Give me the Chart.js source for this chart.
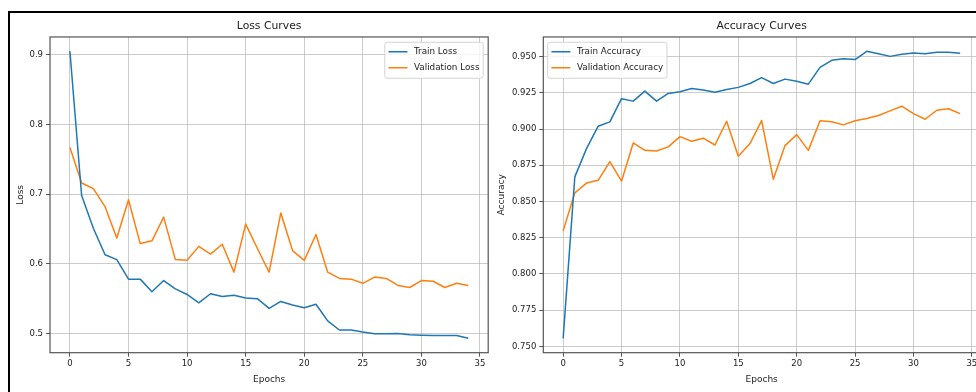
<!DOCTYPE html>
<html>
<head>
<meta charset="utf-8">
<title>Training curves</title>
<script src="https://cdn.jsdelivr.net/npm/chart.js@4.4.1/dist/chart.umd.min.js"></script>
<style>
  html, body { margin: 0; padding: 0; background: #fff; width: 976px; height: 392px; overflow: hidden; }
  .page-frame { position: absolute; left: 8px; top: 11px; width: 1400px; height: 1400px;
                border-top: 2px solid #000; border-left: 2px solid #000; }
  canvas { position: absolute; top: 0; }
  #lossChart { left: 0; }
  #accChart { left: 490px; }
</style>
</head>
<body>
<div class="page-frame"></div>
<canvas id="lossChart" width="490" height="392" style="width:490px;height:392px"></canvas>
<canvas id="accChart" width="520" height="392" style="width:520px;height:392px"></canvas>
<script>
// Epoch index for every recorded value
const epochs = [0, 1, 2, 3, 4, 5, 6, 7, 8, 9, 10, 11, 12, 13, 14, 15, 16, 17,
                18, 19, 20, 21, 22, 23, 24, 25, 26, 27, 28, 29, 30, 31, 32, 33, 34];

const trainLoss = [0.905, 0.698, 0.651, 0.613, 0.606, 0.578, 0.578, 0.560, 0.576, 0.564,
                   0.556, 0.544, 0.557, 0.553, 0.555, 0.551, 0.550, 0.536, 0.546, 0.541,
                   0.537, 0.542, 0.518, 0.505, 0.505, 0.502, 0.4995, 0.4995, 0.500, 0.498,
                   0.4975, 0.497, 0.497, 0.497, 0.493];

const valLoss = [0.767, 0.716, 0.708, 0.682, 0.637, 0.692, 0.629, 0.633, 0.667, 0.606,
                 0.605, 0.625, 0.614, 0.628, 0.588, 0.657, 0.622, 0.588, 0.673, 0.619,
                 0.605, 0.642, 0.588, 0.579, 0.578, 0.572, 0.581, 0.579, 0.569, 0.566,
                 0.576, 0.575, 0.566, 0.572, 0.569];

const trainAcc = [0.7555, 0.867, 0.8865, 0.902, 0.905, 0.921, 0.9193, 0.9262, 0.9193, 0.9246,
                  0.9258, 0.928, 0.927, 0.9255, 0.9274, 0.9288, 0.9315, 0.9355, 0.9315, 0.9345,
                  0.933, 0.931, 0.9426, 0.9475, 0.9486, 0.948, 0.9537, 0.952, 0.9502, 0.9516,
                  0.9525, 0.952, 0.953, 0.953, 0.9523];

const valAcc = [0.8297, 0.856, 0.8627, 0.8646, 0.8775, 0.864, 0.8904, 0.8853, 0.8849, 0.8877,
                0.8948, 0.8916, 0.8937, 0.889, 0.9054, 0.8812, 0.890, 0.9059, 0.8653, 0.8886,
                0.8962, 0.8853, 0.9057, 0.905, 0.9029, 0.9057, 0.9073, 0.9094, 0.9126, 0.9158,
                0.9107, 0.9068, 0.913, 0.914, 0.9107];

// Tick positions on each axis
const epochTicks = [0, 5, 10, 15, 20, 25, 30, 35];
const lossTicks = [0.5, 0.6, 0.7, 0.8, 0.9];
const accTicks = [0.750, 0.775, 0.800, 0.825, 0.850, 0.875, 0.900, 0.925, 0.950];

const FONT = '"DejaVu Sans", "Liberation Sans", sans-serif';
const TEXT = '#222';
const BLUE = '#1f77b4';
const ORANGE = '#ff7f0e';
const GRID = 'rgba(176,176,176,0.65)';
const SPINE = '#555';

const toPoints = (ys) => epochs.map((x, i) => ({ x, y: ys[i] }));

// 5% headroom around the data, like an autoscaled axis
function paddedRange(a, b) {
  const lo = Math.min(...a, ...b), hi = Math.max(...a, ...b);
  const m = (hi - lo) * 0.05;
  return { min: lo - m, max: hi + m };
}
const epochRange = { min: epochs[0] - (epochs[epochs.length - 1] - epochs[0]) * 0.05,
                     max: epochs[epochs.length - 1] + (epochs[epochs.length - 1] - epochs[0]) * 0.05 };

// Four-sided frame around the plotting area
const plotFrame = {
  id: 'plotFrame',
  afterDatasetsDraw(chart) {
    const { ctx, chartArea: a } = chart;
    ctx.save();
    ctx.strokeStyle = SPINE;
    ctx.lineWidth = 1.2;
    ctx.strokeRect(a.left, a.top, a.right - a.left, a.bottom - a.top);
    ctx.restore();
  }
};

// Boxed legend drawn inside a corner of the plotting area
const insetLegend = {
  id: 'insetLegend',
  afterDraw(chart, args, opts) {
    const { ctx, chartArea: a } = chart;
    ctx.save();
    ctx.font = `${opts.size}px ${FONT}`;
    const items = chart.data.datasets.map(d => ({ label: d.label, color: d.borderColor }));
    const textW = Math.max(...items.map(it => ctx.measureText(it.label).width));
    const pad = 3.7, lineLen = 19, gap = 6.5, rowH = 16, h = 36;
    const w = pad + lineLen + gap + textW + pad;
    const x = opts.corner === 'right' ? a.right - 5 - w : a.left + 4.4;
    const y = a.top + 5.3;
    ctx.beginPath();
    if (ctx.roundRect) ctx.roundRect(x, y, w, h, 2.5); else ctx.rect(x, y, w, h);
    ctx.fillStyle = 'rgba(255,255,255,0.8)';
    ctx.fill();
    ctx.strokeStyle = '#d4d4d4';
    ctx.lineWidth = 1;
    ctx.stroke();
    items.forEach((it, i) => {
      const cy = y + 9.5 + i * rowH;
      ctx.beginPath();
      ctx.moveTo(x + pad, cy);
      ctx.lineTo(x + pad + lineLen, cy);
      ctx.strokeStyle = it.color;
      ctx.lineWidth = 1.5;
      ctx.stroke();
      ctx.fillStyle = TEXT;
      ctx.textBaseline = 'middle';
      ctx.textAlign = 'left';
      ctx.fillText(it.label, x + pad + lineLen + gap, cy);
    });
    ctx.restore();
  }
};

function lineDataset(label, ys, color) {
  return {
    label, data: toPoints(ys), borderColor: color, backgroundColor: color,
    borderWidth: 1.5, pointRadius: 0, tension: 0, fill: false,
    borderJoinStyle: 'round'
  };
}

function makeChart(canvasId, cfg) {
  const range = paddedRange(cfg.series[0][1], cfg.series[1][1]);
  return new Chart(document.getElementById(canvasId), {
    type: 'line',
    data: {
      datasets: [
        lineDataset(cfg.series[0][0], cfg.series[0][1], BLUE),
        lineDataset(cfg.series[1][0], cfg.series[1][1], ORANGE)
      ]
    },
    plugins: [plotFrame, insetLegend],
    options: {
      responsive: false,
      animation: false,
      devicePixelRatio: 1,
      layout: { padding: { top: 19.5, left: 0, right: cfg.padRight, bottom: 0 } },
      plugins: {
        legend: { display: false },
        tooltip: { enabled: false },
        title: {
          display: true, text: cfg.title, fullSize: false, color: TEXT,
          font: { family: FONT, size: 10.8, weight: 'normal', lineHeight: 1.2 },
          padding: { top: 0, bottom: 4.5 }
        },
        insetLegend: { corner: cfg.legendCorner, size: 8.8 }
      },
      scales: {
        x: {
          type: 'linear', min: epochRange.min, max: epochRange.max,
          afterBuildTicks: s => { s.ticks = epochTicks.map(v => ({ value: v })); },
          afterFit: s => { s.height = 39.3; },
          grid: { color: GRID, lineWidth: 1, tickColor: SPINE, tickLength: 4, tickWidth: 1 },
          border: { display: false },
          ticks: { color: TEXT, padding: 2, maxRotation: 0, autoSkip: false,
                   font: { family: FONT, size: 8.5 }, callback: v => String(v) },
          title: { display: true, text: 'Epochs', color: TEXT,
                   font: { family: FONT, size: 9 }, padding: { top: 0, bottom: 6.6 } }
        },
        y: {
          type: 'linear', min: range.min, max: range.max,
          afterBuildTicks: s => { s.ticks = cfg.ticks.map(v => ({ value: v })); },
          afterFit: s => { s.width = cfg.yWidth; },
          grid: { color: GRID, lineWidth: 1, tickColor: SPINE, tickLength: 4, tickWidth: 1 },
          border: { display: false },
          ticks: { color: TEXT, padding: 3, autoSkip: false,
                   font: { family: FONT, size: 8.5 }, callback: v => v.toFixed(cfg.decimals) },
          title: { display: true, text: cfg.yTitle, color: TEXT,
                   font: { family: FONT, size: 9 }, padding: { top: cfg.yTitlePad, bottom: 0 } }
        }
      }
    }
  });
}

makeChart('lossChart', {
  title: 'Loss Curves', yTitle: 'Loss',
  series: [['Train Loss', trainLoss], ['Validation Loss', valLoss]],
  ticks: lossTicks, decimals: 1, yWidth: 50, yTitlePad: 15.3, padRight: 1.8,
  legendCorner: 'right'
});

makeChart('accChart', {
  title: 'Accuracy Curves', yTitle: 'Accuracy',
  series: [['Train Accuracy', trainAcc], ['Validation Accuracy', valAcc]],
  ticks: accTicks, decimals: 3, yWidth: 53.3, yTitlePad: 6.3, padRight: 30,
  legendCorner: 'left'
});
</script>
</body>
</html>
